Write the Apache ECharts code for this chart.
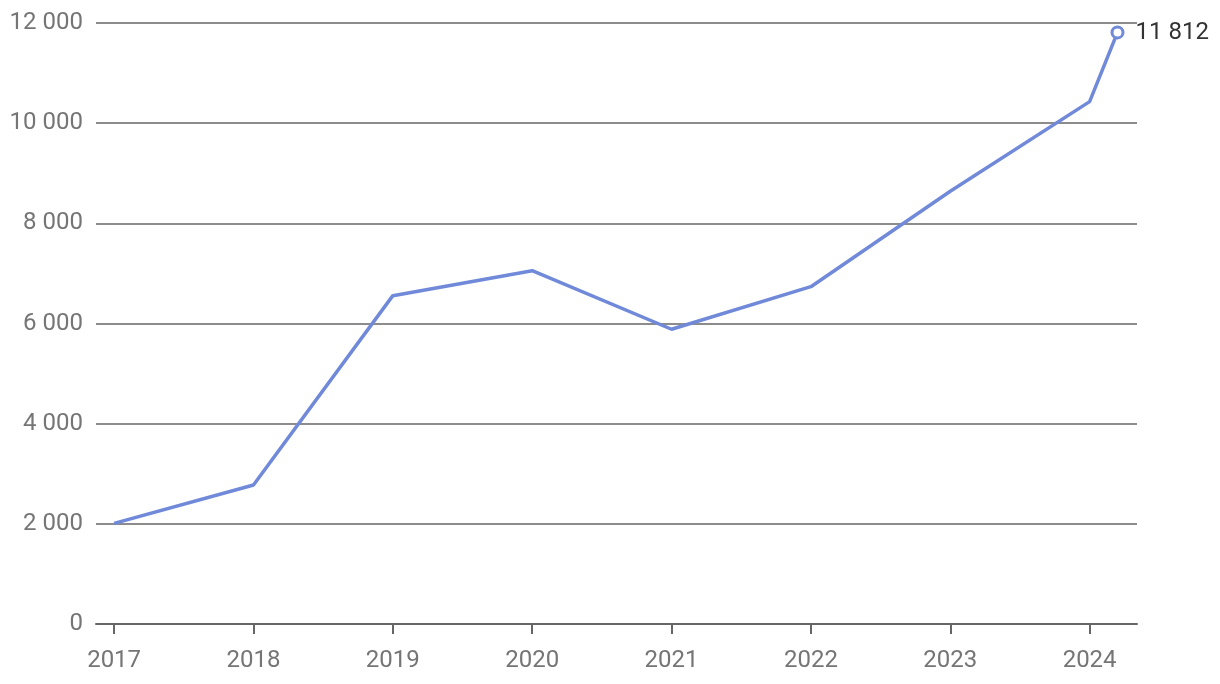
<!DOCTYPE html>
<html>
<head>
<meta charset="utf-8">
<script src="https://cdn.jsdelivr.net/npm/echarts@6/dist/echarts.min.js"></script>
<style>html,body{margin:0;padding:0;background:#fff}#c{width:1220px;height:684px}</style>
</head>
<body>
<div id="c"></div>
<script>
const years = [2017, 2018, 2019, 2020, 2021, 2022, 2023, 2024, 2024.2];
const values = [2010, 2776, 6556, 7055, 5885, 6735, 8640, 10430, 11812];
const xTicks = [2017, 2018, 2019, 2020, 2021, 2022, 2023, 2024];
const yTicks = [0, 2000, 4000, 6000, 8000, 10000, 12000];

function fmt(v) { return String(Math.round(v)).replace(/\B(?=(\d{3})+(?!\d))/g, ' '); }

const data = years.map((y, i) => {
  const p = { value: [y, values[i]] };
  if (i === years.length - 1) {
    p.symbol = 'circle';
    p.symbolSize = 11;
    p.itemStyle = { color: '#fff', borderColor: '#7089d9', borderWidth: 3 };
    p.label = { show: true, position: 'right', distance: 11, offset: [0, 1], formatter: fmt(values[i]), color: '#333', fontSize: 24, fontFamily: 'Roboto' };
  }
  return p;
});

const chart = echarts.init(document.getElementById('c'), null, { renderer: 'canvas' });
chart.setOption({
  animation: false,
  grid: { left: 96, right: 83, top: 23, bottom: 60, containLabel: false },
  xAxis: {
    type: 'value', min: 2016.87, max: 2024.34,
    splitLine: { show: false },
    axisLine: { show: true, lineStyle: { color: '#666', width: 2 } },
    axisTick: { show: true, customValues: xTicks, length: 10, lineStyle: { color: '#666', width: 2 } },
    axisLabel: { customValues: xTicks, formatter: v => String(v), color: '#757575', fontSize: 24, fontFamily: 'Roboto', margin: 25 }
  },
  yAxis: {
    type: 'value', min: 0, max: 12000, interval: 2000,
    axisLine: { show: false }, axisTick: { show: false },
    splitLine: { show: true, lineStyle: { color: '#666', width: 1.5 } },
    axisLabel: { formatter: v => fmt(v), color: '#757575', fontSize: 24, fontFamily: 'Roboto', margin: 13 }
  },
  series: [{
    type: 'line', data: data, showSymbol: true, symbol: 'none',
    lineStyle: { color: '#7089d9', width: 3.5 },
    itemStyle: { color: '#7089d9' }
  }]
});
</script>
</body>
</html>
